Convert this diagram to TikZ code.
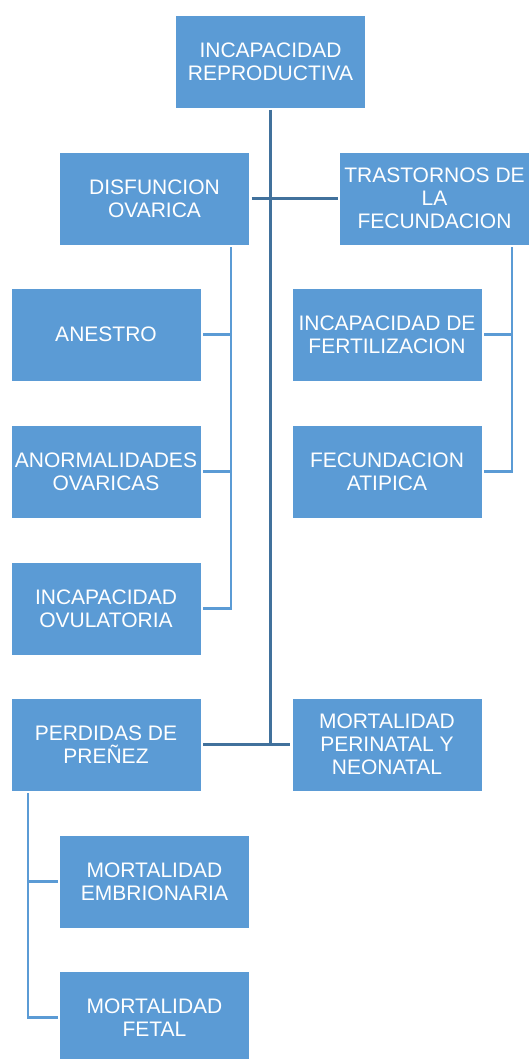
\documentclass[tikz,border=0pt]{standalone}
\usepackage{fontspec}
\setmainfont{Liberation Sans}
\definecolor{boxblue}{HTML}{5B9BD5}
\definecolor{lineblue}{HTML}{41719C}
\begin{document}
\begin{tikzpicture}[x=1pt,y=-1pt,
  box/.style={fill=boxblue, draw=white, line width=0.6pt, text=white,
    minimum width=190pt, minimum height=93pt, inner sep=0pt, outer sep=2pt,
    align=center, font=\fontsize{21}{23}\selectfont},
  mainline/.style={draw=lineblue, line width=2.6pt},
  subline/.style={draw=boxblue, line width=2.6pt}]
\useasboundingbox (0,0) rectangle (531,1059);
\node[box] (root) at (270.5,61.5) {INCAPACIDAD\\REPRODUCTIVA};
\node[box] (disf) at (154.5,198.5) {DISFUNCION\\OVARICA};
\node[box] (tras) at (434.5,198.5) {TRASTORNOS DE\\LA\\FECUNDACION};
\node[box] (anes) at (106,334.5) {ANESTRO};
\node[box] (anor) at (106,471.5) {ANORMALIDADES\\OVARICAS};
\node[box] (ovul) at (106,608.5) {INCAPACIDAD\\OVULATORIA};
\node[box] (fert) at (387,334.5) {INCAPACIDAD DE\\FERTILIZACION};
\node[box] (atip) at (387,471.5) {FECUNDACION\\ATIPICA};
\node[box] (perd) at (106,744.5) {PERDIDAS DE\\PREÑEZ};
\node[box] (peri) at (387,744.5) {MORTALIDAD\\PERINATAL Y\\NEONATAL};
\node[box] (embr) at (154.5,881.5) {MORTALIDAD\\EMBRIONARIA};
\node[box] (feta) at (154.5,1017.5) {MORTALIDAD\\FETAL};
\coordinate (dlx) at (231,0);
\coordinate (rx) at (512,0);
\coordinate (lx) at (28,0);
% main connectors
\draw[mainline] (disf.east) -- (tras.west);
\draw[mainline] (perd.east) -- (peri.west);
\draw[mainline] (root.south) -- (root.south |- perd.east);
% sub connectors
\draw[subline] (disf.south -| dlx) -- (ovul.east -| dlx) -- (ovul.east);
\draw[subline] (anes.east) -- (anes.east -| dlx);
\draw[subline] (anor.east) -- (anor.east -| dlx);
\draw[subline] (tras.south -| rx) -- (atip.east -| rx) -- (atip.east);
\draw[subline] (fert.east) -- (fert.east -| rx);
\draw[subline] (perd.south -| lx) -- (feta.west -| lx) -- (feta.west);
\draw[subline] (embr.west) -- (embr.west -| lx);
\end{tikzpicture}
\end{document}
